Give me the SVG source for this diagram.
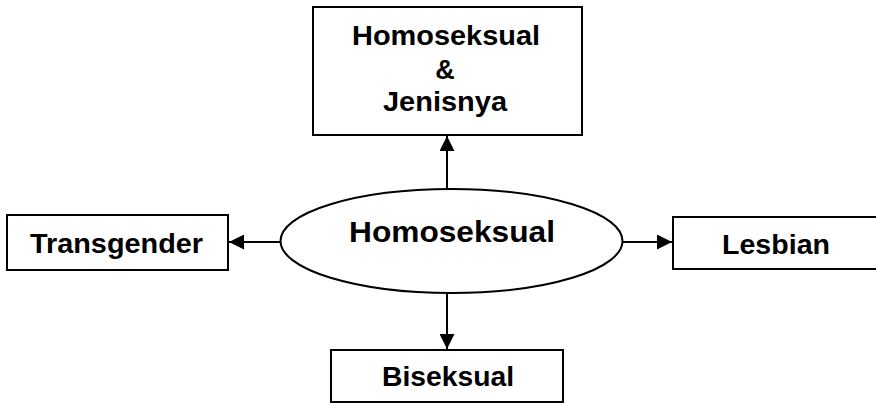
<svg xmlns="http://www.w3.org/2000/svg" width="876" height="403" viewBox="0 0 876 403">
<defs>
<style>
.box{fill:#fff;stroke:#000;stroke-width:2}
.ell{fill:#fff;stroke:#000;stroke-width:2}
.t{font-family:"Liberation Sans",Arial,sans-serif;font-weight:bold;fill:#000;text-anchor:middle}
.c{stroke:#000;stroke-width:2;fill:none;marker-end:url(#ah)}
</style>
<marker id="ah" markerUnits="userSpaceOnUse" markerWidth="16" markerHeight="15" refX="15" refY="7.5" orient="auto">
<path d="M0,0 L15,7.5 L0,15 Z" fill="#000"/>
</marker>
</defs>
<rect width="876" height="403" fill="#fff"/>
<g id="connectors">
<line class="c" x1="447" y1="190" x2="447" y2="136"/>
<line class="c" x1="281" y1="242" x2="229" y2="242"/>
<line class="c" x1="623" y1="242" x2="672" y2="242"/>
<line class="c" x1="447" y1="293" x2="447" y2="349"/>
</g>
<g id="top">
<rect class="box" x="313" y="7" width="269" height="128"/>
<text class="t" x="446" y="45" font-size="27" textLength="188" lengthAdjust="spacingAndGlyphs">Homoseksual</text>
<text class="t" x="445" y="79" font-size="27">&amp;</text>
<text class="t" x="445" y="111" font-size="27" textLength="124" lengthAdjust="spacingAndGlyphs">Jenisnya</text>
</g>
<g id="center">
<ellipse class="ell" cx="451.5" cy="241" rx="171" ry="52"/>
<text class="t" x="452" y="242" font-size="30" textLength="206" lengthAdjust="spacingAndGlyphs">Homoseksual</text>
</g>
<g id="left">
<rect class="box" x="7" y="215" width="221" height="55"/>
<text class="t" x="116.5" y="253" font-size="28" textLength="173" lengthAdjust="spacingAndGlyphs">Transgender</text>
</g>
<g id="right">
<rect class="box" x="673" y="217" width="210" height="52"/>
<text class="t" x="776" y="254" font-size="28" textLength="108" lengthAdjust="spacingAndGlyphs">Lesbian</text>
</g>
<g id="bottom">
<rect class="box" x="331" y="350" width="232" height="52"/>
<text class="t" x="448" y="386" font-size="28" textLength="132" lengthAdjust="spacingAndGlyphs">Biseksual</text>
</g>
</svg>
